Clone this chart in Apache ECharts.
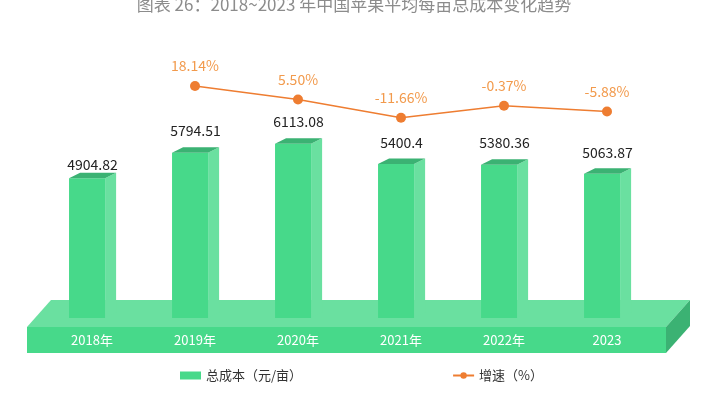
<!DOCTYPE html>
<html>
<head>
<meta charset="utf-8">
<script src="https://cdn.jsdelivr.net/npm/echarts@6/dist/echarts.min.js"></script>
<style>html,body{margin:0;padding:0;background:#fff}#c{width:708px;height:396px}</style>
</head>
<body>
<div id="c"></div>
<script>
var categories = ['2018年', '2019年', '2020年', '2021年', '2022年', '2023'];
var costValues = [4904.82, 5794.51, 6113.08, 5400.4, 5380.36, 5063.87];
var growthValues = [null, 18.14, 5.50, -11.66, -0.37, -5.88];
var growthLabels = ['', '18.14%', '5.50%', '-11.66%', '-0.37%', '-5.88%'];
var costLabels = ['4904.82', '5794.51', '6113.08', '5400.4', '5380.36', '5063.87'];

var FONT = '"Noto Sans CJK SC", "Noto Sans", sans-serif';
var C_FRONT = '#47d98a', C_SIDE = '#6ae0a0', C_TOP = '#3bb273';
var labelGap = [14, 22, 22, 21, 22, 21];

var chart = echarts.init(document.getElementById('c'), null, {renderer: 'canvas'});

var option = {
  backgroundColor: '#fff',
  animation: false,
  title: {
    text: '图表 26：2018~2023 年中国苹果平均每亩总成本变化趋势',
    left: 'center', top: -9,
    textStyle: {fontFamily: FONT, fontSize: 17, fontWeight: 'normal', color: '#8c8c8c'}
  },
  legend: {
    left: 175, top: 364,
    itemWidth: 21, itemHeight: 8, itemGap: 150,
    textStyle: {fontFamily: FONT, fontSize: 13, color: '#333'},
    data: [
      {name: '总成本（元/亩）', icon: 'rect', itemStyle: {color: C_FRONT}},
      {name: '增速（%）'}
    ]
  },
  grid: {left: 40.5, right: 49.5, top: 33, bottom: 78},
  xAxis: {
    type: 'category', data: categories, z: 10,
    axisLine: {show: false}, axisTick: {show: false}, splitLine: {show: false},
    axisLabel: {color: '#fff', fontFamily: FONT, fontSize: 13, margin: 16}
  },
  yAxis: [
    {type: 'value', min: 0, max: 10000, show: false, splitLine: {show: false}},
    {type: 'value', min: -200, max: 68, show: false, splitLine: {show: false}}
  ],
  series: [
    {
      name: 'platform', type: 'custom', z: 1, silent: true,
      data: [[0, 0]],
      encode: {x: 0, y: 1},
      renderItem: function (params, api) {
        var cs = params.coordSys;
        var left = cs.x - 13.5, right = cs.x + cs.width + 7.5;
        var bottom = cs.y + cs.height;
        var ft = bottom + 9, fb = bottom + 35;
        var dx = 24, dy = 27;
        return {
          type: 'group',
          children: [
            {type: 'polygon', shape: {points: [[left, ft], [right, ft], [right + dx, ft - dy], [left + dx, ft - dy]]}, style: {fill: C_SIDE}},
            {type: 'rect', shape: {x: left, y: ft, width: right - left, height: fb - ft}, style: {fill: C_FRONT}},
            {type: 'polygon', shape: {points: [[right, ft], [right + dx, ft - dy], [right + dx, fb - dy], [right, fb]]}, style: {fill: C_TOP}}
          ]
        };
      }
    },
    {
      name: '总成本（元/亩）', type: 'custom', z: 2,
      itemStyle: {color: C_FRONT},
      data: costValues.map(function (v, i) { return [i, v]; }),
      encode: {x: 0, y: 1},
      renderItem: function (params, api) {
        var i = api.value(0), v = api.value(1);
        var top = api.coord([i, v]);
        var base = api.coord([i, 0]);
        var band = api.size([1, 0])[0];
        var cx = top[0];
        var fw = band * 0.35;
        var x0 = cx - band * 0.223, x1 = x0 + fw;
        var dx = band * 0.107, dy = 5.5;
        var ty = top[1], by = base[1];
        return {
          type: 'group',
          children: [
            {type: 'rect', shape: {x: x0, y: ty, width: fw, height: by - ty}, style: {fill: C_FRONT}},
            {type: 'polygon', shape: {points: [[x1, ty], [x1 + dx, ty - dy], [x1 + dx, by - dy], [x1, by]]}, style: {fill: C_SIDE}},
            {type: 'polygon', shape: {points: [[x0, ty], [x1, ty], [x1 + dx, ty - dy], [x0 + dx, ty - dy]]}, style: {fill: C_TOP}},
            {type: 'text', style: {text: costLabels[i], x: cx + 0.5, y: ty - labelGap[i], align: 'center', verticalAlign: 'middle', fill: '#222', font: '14px ' + FONT}}
          ]
        };
      }
    },
    {
      name: '增速（%）', type: 'line', yAxisIndex: 1, z: 3,
      data: growthValues,
      symbol: 'circle', symbolSize: 10,
      lineStyle: {color: '#ee7d31', width: 1.5},
      itemStyle: {color: '#ee7d31'},
      label: {
        show: true, position: 'top', distance: 8,
        color: '#f29a4c', fontFamily: FONT, fontSize: 14,
        formatter: function (p) { return growthLabels[p.dataIndex]; }
      }
    }
  ]
};
chart.setOption(option);
</script>
</body>
</html>
